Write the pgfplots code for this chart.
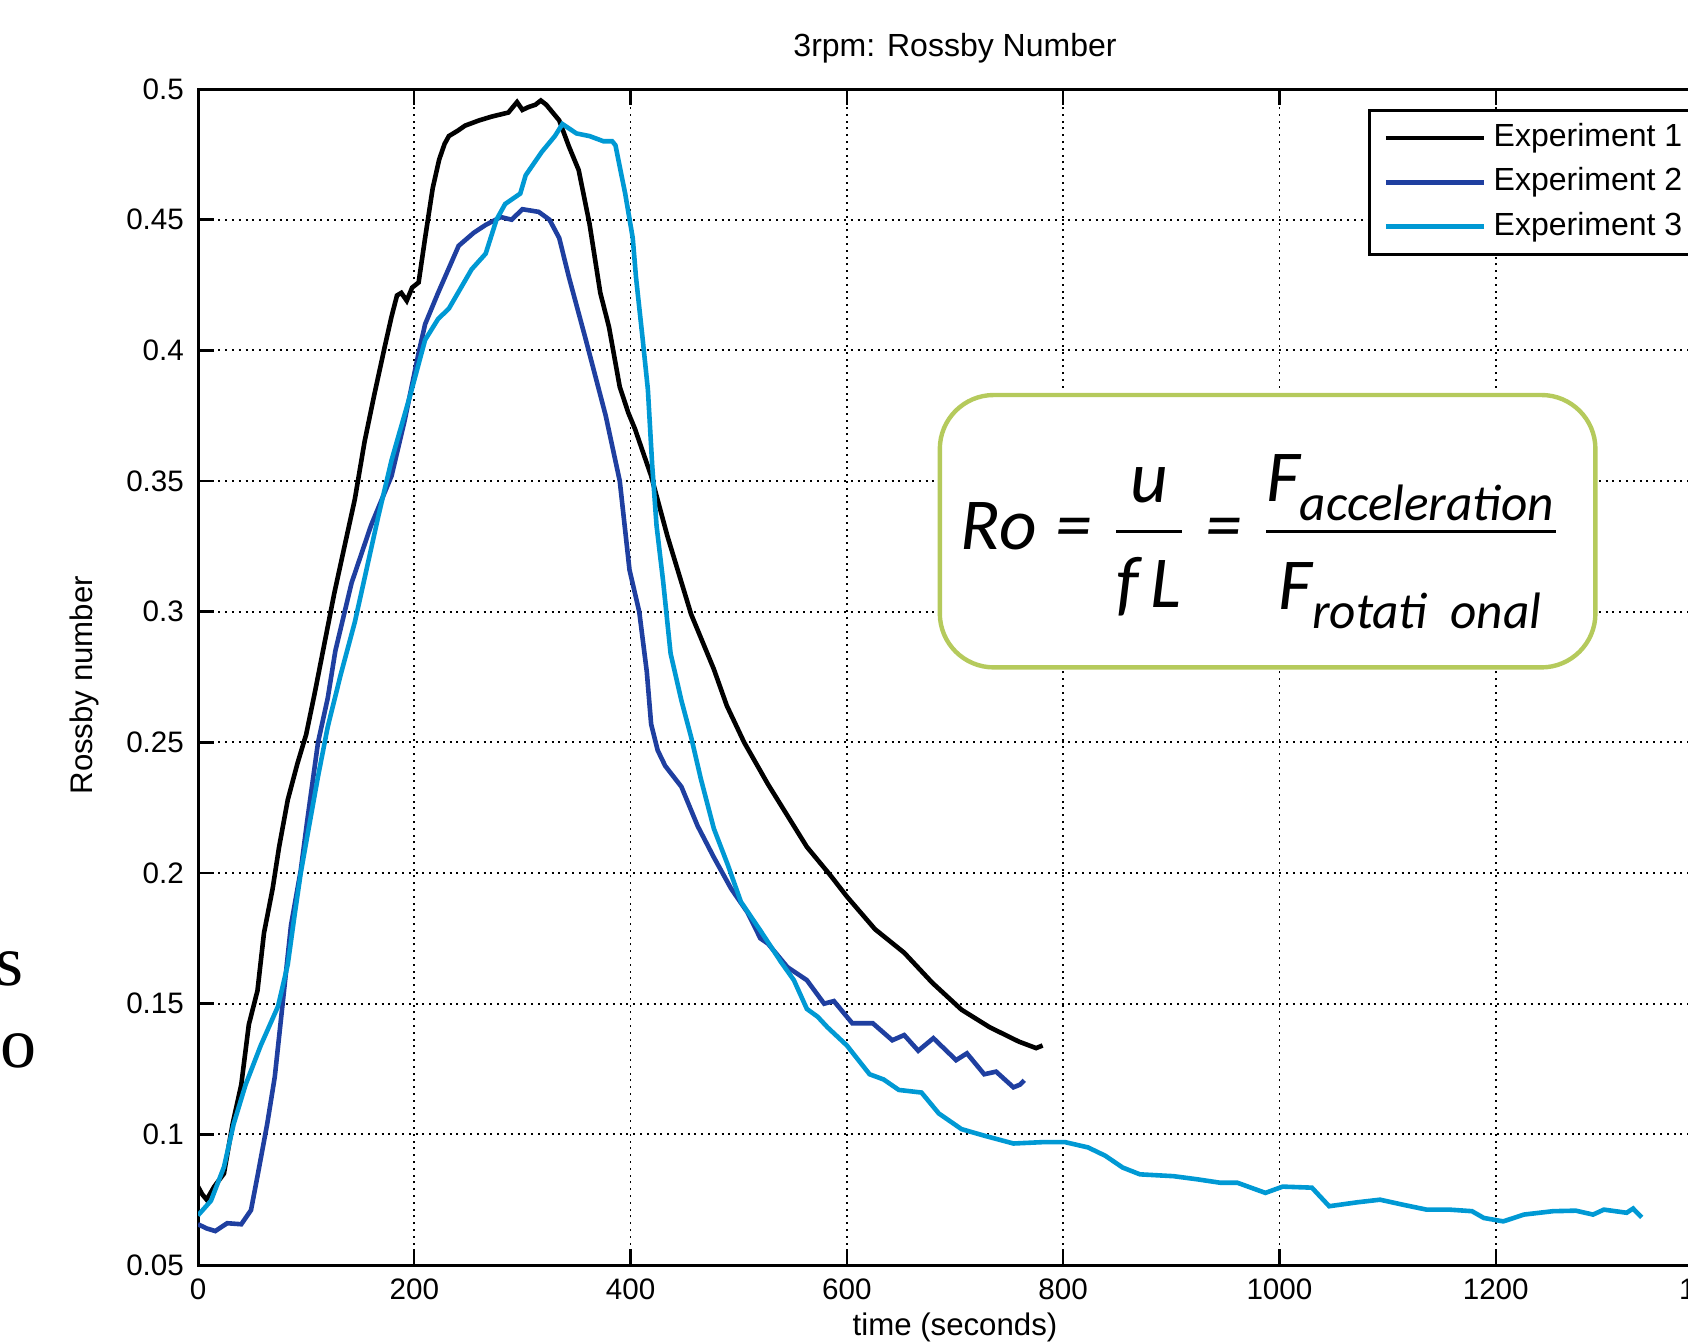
\documentclass[border=0pt]{standalone}
\usepackage{fontspec}
\setmainfont{Liberation Sans}
\newfontfamily\slidefont{Liberation Serif}
\newfontfamily\calibri{Carlito}
\usepackage{amsmath}
\usepackage{pgfplots}
\pgfplotsset{compat=1.18}
\definecolor{exptwo}{RGB}{31,63,160}
\definecolor{expthree}{RGB}{0,153,212}
\definecolor{boxgreen}{RGB}{181,202,92}

\pgfplotstableread{
t ro
0 0.080
4 0.077
8 0.075
15 0.080
24 0.085
32 0.104
40 0.119
47 0.142
55 0.155
61 0.177
69 0.194
75 0.210
83 0.228
92 0.242
100 0.253
108 0.269
117 0.288
126 0.307
136 0.326
145 0.343
154 0.365
163 0.383
173 0.402
179 0.413
184 0.421
188 0.422
193 0.419
198 0.424
204 0.426
210 0.443
217 0.462
223 0.473
228 0.479
232 0.482
240 0.484
247 0.486
260 0.488
272 0.4895
287 0.491
295 0.495
300 0.492
305 0.493
312 0.494
317 0.4956
322 0.494
328 0.491
334 0.488
343 0.478
352 0.469
362 0.4485
372 0.422
380 0.409
390 0.386
398 0.376
404 0.370
419 0.352
434 0.329
456 0.299
477 0.278
489 0.264
505 0.250
527 0.234
545 0.222
563 0.210
585 0.199
600 0.191
626 0.1785
653 0.1695
679 0.158
706 0.1477
732 0.141
759 0.1355
775 0.133
781 0.134
}\expone

\pgfplotstableread{
t ro
0 0.0656
8 0.064
16 0.063
27 0.066
40 0.0656
49 0.071
55 0.084
64 0.104
71 0.122
78 0.149
86 0.180
95 0.201
101 0.220
111 0.250
120 0.267
127 0.285
142 0.311
160 0.333
179 0.352
191 0.373
204 0.399
210 0.410
222 0.422
241 0.440
255 0.445
266 0.448
280 0.451
290 0.450
300 0.454
315 0.453
325 0.450
334 0.443
343 0.428
358 0.405
377 0.375
390 0.350
399 0.316
408 0.300
415 0.277
419 0.257
425 0.247
432 0.241
447 0.233
462 0.218
477 0.206
493 0.194
508 0.185
520 0.175
527 0.173
545 0.164
563 0.159
579 0.150
588 0.151
605 0.1425
624 0.1425
642 0.136
653 0.138
666 0.132
680 0.1368
701 0.1284
711 0.131
727 0.123
738 0.124
754 0.118
760 0.119
764 0.1207
}\exptwo

\pgfplotstableread{
t ro
0 0.069
12 0.0746
24 0.0875
33 0.104
44 0.119
58 0.134
74 0.149
83 0.165
89 0.183
95 0.200
101 0.214
111 0.237
120 0.256
132 0.276
145 0.296
167 0.337
179 0.358
197 0.384
210 0.404
222 0.412
232 0.416
253 0.431
266 0.437
276 0.450
284 0.456
298 0.460
303 0.467
318 0.476
330 0.482
337 0.4866
350 0.483
362 0.482
375 0.480
383 0.480
386 0.4785
395 0.460
402 0.443
405 0.428
411 0.405
416 0.385
420 0.356
424 0.333
430 0.312
437 0.284
447 0.266
456 0.252
465 0.236
477 0.217
490 0.203
502 0.189
520 0.178
539 0.166
551 0.159
563 0.148
573 0.145
582 0.141
600 0.134
621 0.123
634 0.121
648 0.117
669 0.116
685 0.108
706 0.102
727 0.0995
754 0.0965
780 0.097
802 0.097
823 0.095
839 0.0918
855 0.0873
871 0.0847
902 0.084
924 0.0828
945 0.0815
961 0.0815
987 0.0776
1003 0.080
1030 0.0796
1046 0.0725
1072 0.074
1093 0.075
1115 0.073
1136 0.0712
1157 0.0712
1178 0.0706
1189 0.068
1207 0.0667
1226 0.0693
1253 0.0706
1274 0.0708
1290 0.0693
1300 0.0712
1321 0.070
1327 0.0716
1335 0.0682
}\expthree

\begin{document}
\begin{tikzpicture}[x=1pt,y=1pt]
\useasboundingbox (0,0) rectangle (422,335.75);
\clip (0,0) rectangle (422,335.75);
\begin{axis}[
  at={(49.5pt,19.5pt)}, anchor=south west,
  scale only axis, width=378.5pt, height=294pt,
  xmin=0, xmax=1400, ymin=0.05, ymax=0.5,
  xtick={0,200,400,600,800,1000,1200,1400},
  ytick={0.05,0.1,0.15,0.2,0.25,0.3,0.35,0.4,0.45,0.5},
  /pgf/number format/assume math mode=true,
  xticklabel style={/pgf/number format/1000 sep=},
  yticklabel style={/pgf/number format/fixed,/pgf/number format/precision=2},
  ticklabel style={font=\fontsize{7.4}{8}\selectfont},
  tick align=inside, major tick length=4pt,
  tick style={black, line width=0.6pt},
  axis line style={line width=0.75pt},
  grid=major,
  major grid style={black, line width=0.45pt, dash pattern=on 0.5pt off 1.2pt},
  title={3rpm: Rossby Number},
  every axis title/.style={font=\fontsize{8}{9}\selectfont, at={(axis description cs:0.5,1)}, anchor=center, yshift=10.15pt},
  xlabel={time (seconds)},
  every axis x label/.style={font=\fontsize{7.8}{9}\selectfont, at={(axis description cs:0.5,0)}, anchor=center, yshift=-15.5pt},
  ylabel={Rossby number},
  every axis y label/.style={font=\fontsize{7.8}{9}\selectfont, at={(axis description cs:-0.0753,0.493)}, anchor=center, rotate=90},
  legend style={at={(axis description cs:0.7728,0.983)}, anchor=north west,
    draw=black, line width=0.75pt, font=\fontsize{8}{9}\selectfont,
    inner xsep=3.5pt, inner ysep=1.3pt, row sep=0pt,
    nodes={inner sep=1.9pt, anchor=west}},
  legend cell align=left,
  legend image code/.code={\draw[#1] (0pt,0pt) -- (24.5pt,0pt);},
]
\addplot[black, line width=1.15pt] table[x=t, y=ro] {\expone};
\addplot[exptwo, line width=1.15pt] table[x=t, y=ro] {\exptwo};
\addplot[expthree, line width=1.15pt] table[x=t, y=ro] {\expthree};
\legend{Experiment 1, Experiment 2, Experiment 3}
\end{axis}
% formula box pasted over the chart
\draw[boxgreen, line width=1.1pt, fill=white, rounded corners=13.5pt] (234.95,168.9) rectangle (398.85,237.0);
\node[font=\calibri\itshape\fontsize{18.3}{21}\selectfont] at (315.2,200.4) {$\text{Ro}\mathrel{\text{=}}\genfrac{}{}{0.8pt}{0}{\text{u}}{\text{\rule{0pt}{16pt}f\,L}}\mathrel{\text{=}}\genfrac{}{}{0.8pt}{0}{\text{F}_{\text{\raisebox{-2.2pt}{acceleration}}}}{\text{\rule{0pt}{16.5pt}F}_{\text{\raisebox{-2.2pt}{rotati\ \ onal}}}}$};
% slide text at the left edge
\node[font=\slidefont\fontsize{18}{21}\selectfont, anchor=base east, inner sep=0] at (6.2,89.5) {s};
\node[font=\slidefont\fontsize{18}{21}\selectfont, anchor=base east, inner sep=0] at (9.2,69) {to};
\end{tikzpicture}
\end{document}
